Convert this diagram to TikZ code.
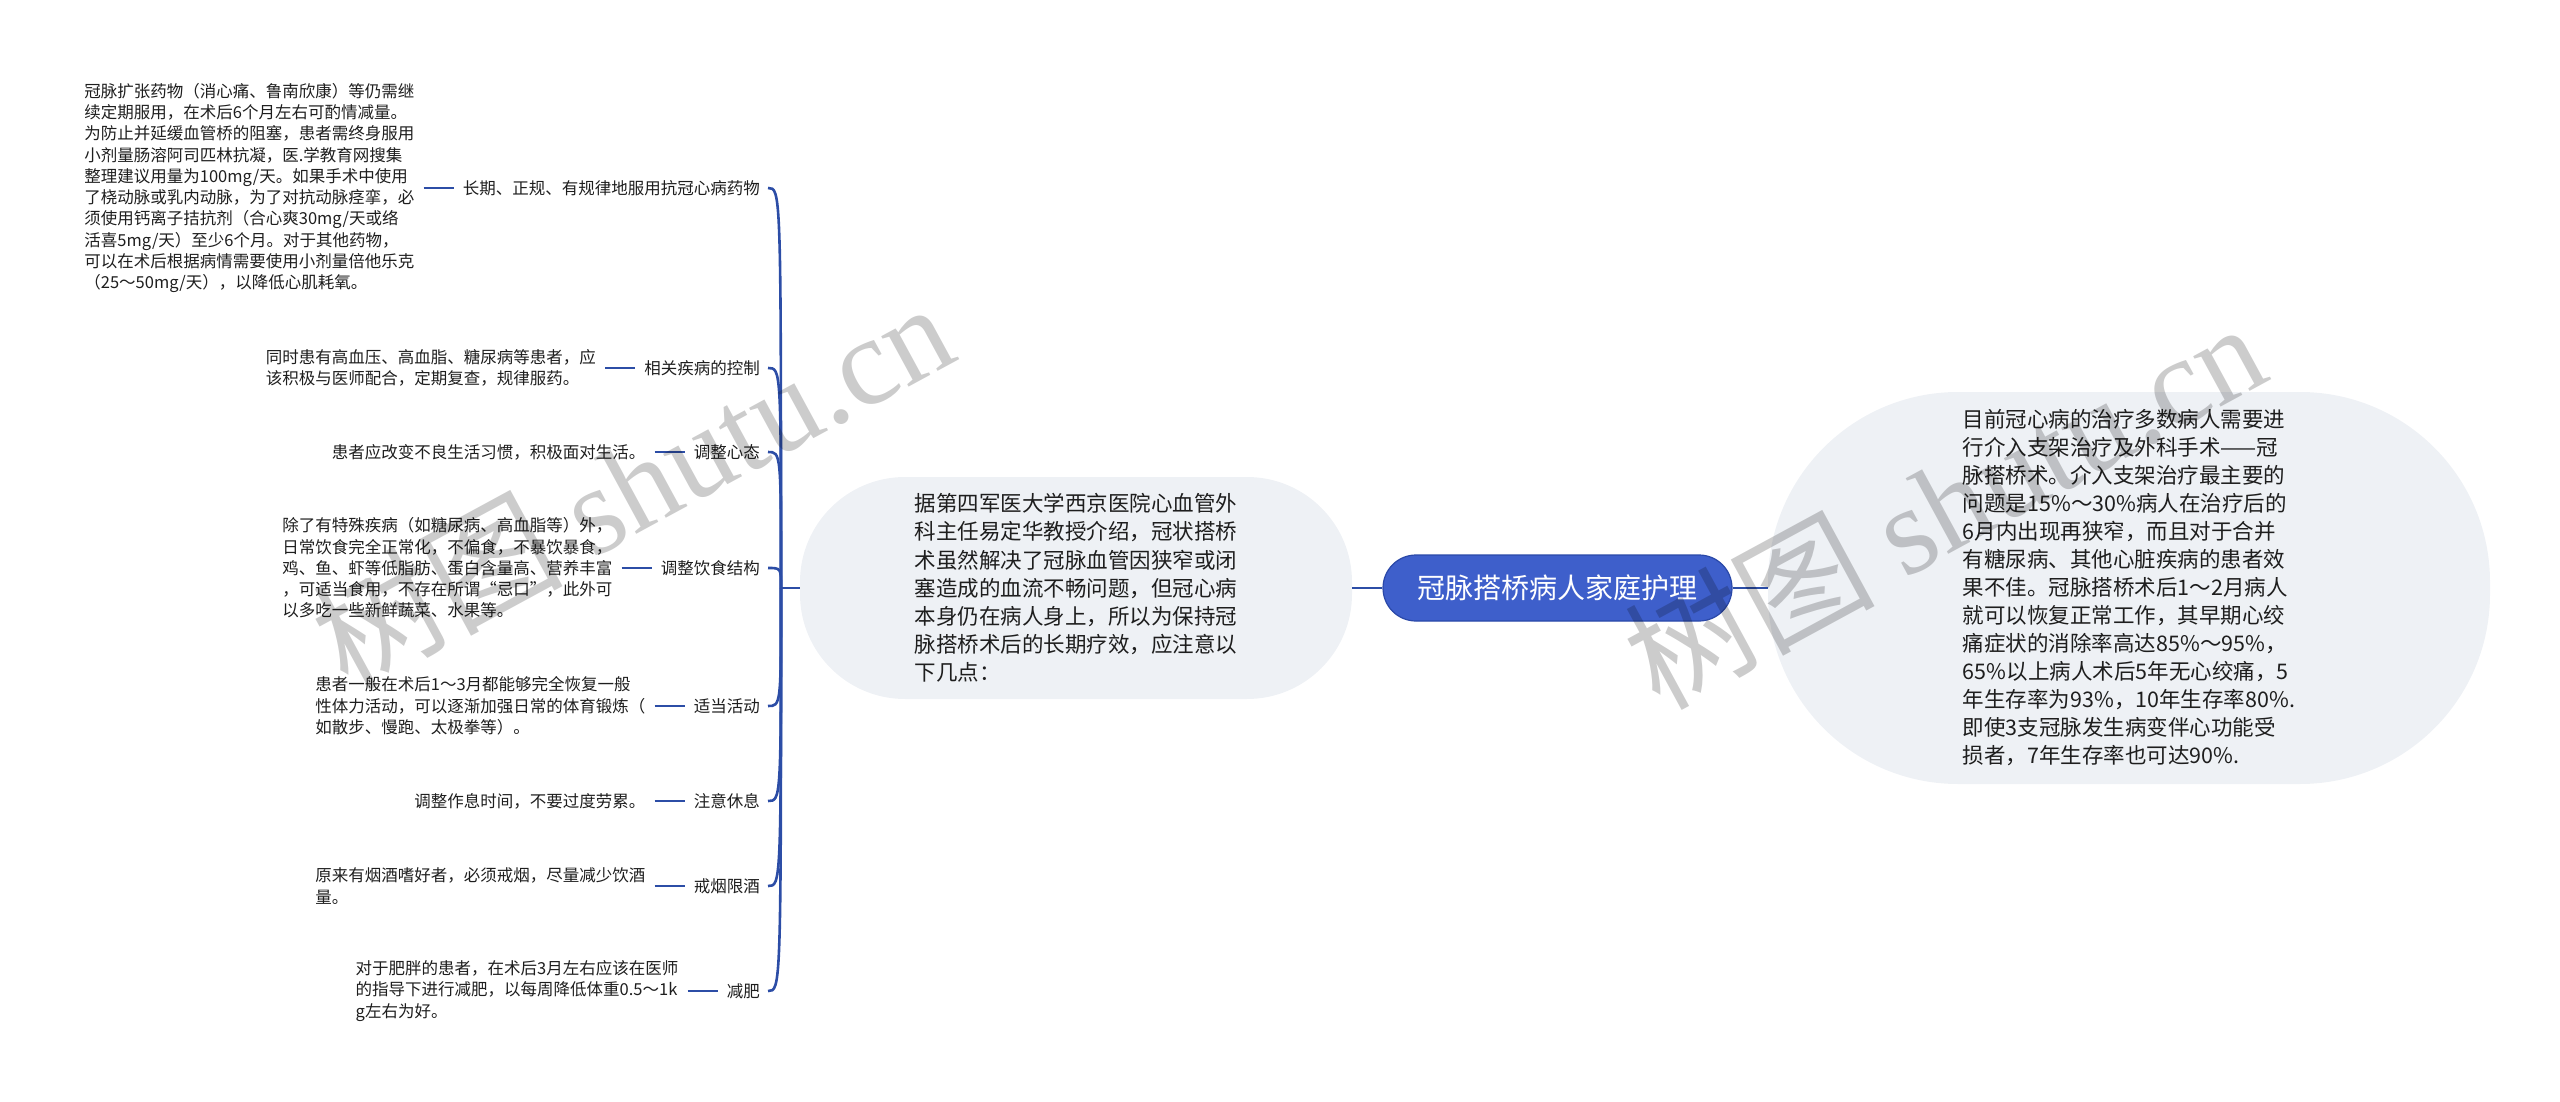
\documentclass[tikz,border=0pt]{standalone}
\usepackage{fontspec}
\setmainfont{Noto Sans CJK SC}
\newfontfamily\wmcjk{Noto Sans CJK SC}
\newfontfamily\wmserif{Liberation Serif}
\definecolor{linec}{HTML}{2C4DA6}
\definecolor{rootc}{HTML}{3E5FCB}
\definecolor{rootb}{HTML}{2A48A8}
\definecolor{boxc}{HTML}{EEF1F5}
\definecolor{txtc}{HTML}{1E1E1E}
\begin{document}
\begin{tikzpicture}[x=1pt,y=-1pt,
  rootnode/.style={draw=rootb, line width=1.2pt, fill=rootc, rounded corners=33pt,
    minimum width=349pt, minimum height=66pt, inner sep=0pt, text=white,
    font=\fontsize{28}{32}\selectfont},
  sumbox/.style={fill=boxc, draw=none, align=left, text=txtc, inner sep=0pt},
  lab/.style={inner sep=0pt, text=txtc, font=\fontsize{16.5}{20}\selectfont, anchor=east},
  det/.style={inner sep=0pt, text=txtc, align=left, font=\fontsize{16.5}{21.3}\selectfont, anchor=east},
  conn/.style={draw=linec, line width=2.6pt},
  wm/.style={inner sep=0pt, text=black, text opacity=0.2, anchor=west, rotate=28.5,
    font=\fontsize{125}{130}\selectfont}
]
\useasboundingbox (0,0) rectangle (2560,1102);

% main nodes
\node[sumbox, rounded corners=105pt, minimum width=552pt, minimum height=222pt,
  font=\fontsize{21.5}{28.2}\selectfont] (mid) at (1076,588)
  {据第四军医大学西京医院心血管外\\科主任易定华教授介绍，冠状搭桥\\术虽然解决了冠脉血管因狭窄或闭\\塞造成的血流不畅问题，但冠心病\\本身仍在病人身上，所以为保持冠\\脉搭桥术后的长期疗效，应注意以\\下几点：};
\node[rootnode] (root) at (1557.5,588) {冠脉搭桥病人家庭护理};
\node[sumbox, rounded corners=190pt, minimum width=722pt, minimum height=392pt,
  font=\fontsize{21.5}{28}\selectfont] (sum) at (2129,588)
  {目前冠心病的治疗多数病人需要进\\行介入支架治疗及外科手术——冠\\脉搭桥术。介入支架治疗最主要的\\问题是15\%～30\%病人在治疗后的\\6月内出现再狭窄，而且对于合并\\有糖尿病、其他心脏疾病的患者效\\果不佳。冠脉搭桥术后1～2月病人\\就可以恢复正常工作，其早期心绞\\痛症状的消除率高达85\%～95\%，\\65\%以上病人术后5年无心绞痛，5\\年生存率为93\%，10年生存率80\%.\\即使3支冠脉发生病变伴心功能受\\损者，7年生存率也可达90\%.};

\draw[conn] (mid.east) -- (root.west);
\draw[conn] (root.east) -- (sum.west);

% branch labels
\node[lab] (l1) at (760,188) {长期、正规、有规律地服用抗冠心病药物};
\node[lab] (l2) at (760,368) {相关疾病的控制};
\node[lab] (l3) at (760,452) {调整心态};
\node[lab] (l4) at (760,568) {调整饮食结构};
\node[lab] (l5) at (760,706) {适当活动};
\node[lab] (l6) at (760,801) {注意休息};
\node[lab] (l7) at (760,886) {戒烟限酒};
\node[lab] (l8) at (760,991) {减肥};

% details
\node[det] (d1) at ([xshift=-48pt]l1.west) {冠脉扩张药物（消心痛、鲁南欣康）等仍需继\\续定期服用，在术后6个月左右可酌情减量。\\为防止并延缓血管桥的阻塞，患者需终身服用\\小剂量肠溶阿司匹林抗凝，医.学教育网搜集\\整理建议用量为100mg/天。如果手术中使用\\了桡动脉或乳内动脉，为了对抗动脉痉挛，必\\须使用钙离子拮抗剂（合心爽30mg/天或络\\活喜5mg/天）至少6个月。对于其他药物，\\可以在术后根据病情需要使用小剂量倍他乐克\\（25～50mg/天），以降低心肌耗氧。};
\node[det] (d2) at ([xshift=-48pt]l2.west) {同时患有高血压、高血脂、糖尿病等患者，应\\该积极与医师配合，定期复查，规律服药。};
\node[det] (d3) at ([xshift=-48pt]l3.west) {患者应改变不良生活习惯，积极面对生活。};
\node[det] (d4) at ([xshift=-48pt]l4.west) {除了有特殊疾病（如糖尿病、高血脂等）外，\\日常饮食完全正常化，不偏食，不暴饮暴食，\\鸡、鱼、虾等低脂肪、蛋白含量高、营养丰富\\，可适当食用，不存在所谓“忌口”，此外可\\以多吃一些新鲜蔬菜、水果等。};
\node[det] (d5) at ([xshift=-48pt]l5.west) {患者一般在术后1～3月都能够完全恢复一般\\性体力活动，可以逐渐加强日常的体育锻炼（\\如散步、慢跑、太极拳等）。};
\node[det] (d6) at ([xshift=-48pt]l6.west) {调整作息时间，不要过度劳累。};
\node[det] (d7) at ([xshift=-48pt]l7.west) {原来有烟酒嗜好者，必须戒烟，尽量减少饮酒\\量。};
\node[det] (d8) at ([xshift=-48pt]l8.west) {对于肥胖的患者，在术后3月左右应该在医师\\的指导下进行减肥，以每周降低体重0.5～1k\\g左右为好。};

% trunk and branches
\coordinate (tr) at (781,588);
\draw[conn] (mid.west) -- (tr);
\foreach \i/\y in {1/188,2/368,3/452,4/568,5/706,6/801,7/886,8/991}{
  \draw[conn] (tr) .. controls (781,\y) and (781,\y) .. ([xshift=8pt]l\i.east);
  \draw[conn] ([xshift=9pt]d\i.east) -- ([xshift=-9pt]l\i.west);
}

% watermarks
\node[wm] (wm1) at (325,650) {\wmcjk 树图 \wmserif shutu.cn};
\node[wm] (wm2) at (1637,670) {\wmcjk 树图 \wmserif shutu.cn};
\end{tikzpicture}
\end{document}
